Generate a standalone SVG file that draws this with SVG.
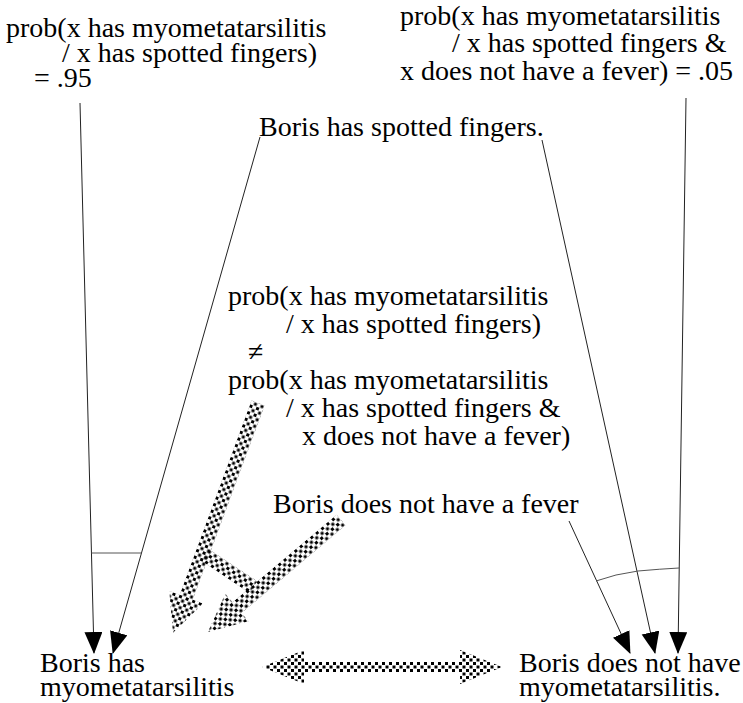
<svg xmlns="http://www.w3.org/2000/svg" width="743" height="703" viewBox="0 0 743 703">
<style>
text{font-family:"Liberation Serif","Times New Roman",serif;font-size:28px;fill:#000}
.ln{stroke:#222;stroke-width:1;fill:none}
.bar{stroke:#555;stroke-width:1;fill:none}
.blk{fill:url(#chk);stroke:none}
</style>
<defs>
<pattern id="chk" patternUnits="userSpaceOnUse" width="7" height="7">
<rect x="0.5" y="0.5" width="3" height="3" fill="#000"/>
<rect x="4" y="4" width="3" height="3" fill="#000"/>
</pattern>
<marker id="tri" markerUnits="userSpaceOnUse" markerWidth="22" markerHeight="20" refX="21" refY="9" orient="auto">
<path d="M0,0 L22,9 L0,18 Z" fill="#000"/>
</marker>
</defs>
<rect width="743" height="703" fill="#fff"/>

<g id="connectors">
<path class="ln" d="M80,103 L94,653" marker-end="url(#tri)"/>
<path class="ln" d="M260,137 L113,653" marker-end="url(#tri)"/>
<path class="bar" d="M91.5,553 L141,553"/>
<path class="ln" d="M569,521 L630,653" marker-end="url(#tri)"/>
<path class="ln" d="M542,140 L655,653" marker-end="url(#tri)"/>
<path class="ln" d="M686,98 L678,653" marker-end="url(#tri)"/>
<path class="bar" d="M596,581 Q615,574 638,571 Q660,569 679,568"/>
<g transform="translate(205,555) rotate(33.7)"><path class="blk" d="M0,-7 L58,-7 L58,7 L0,7 Z"/></g>
<g transform="translate(258,403) rotate(110.3)"><path class="blk" d="M0,-7 L207,-7 L207,-18 L245,0 L207,18 L207,7 L0,7 Z"/></g>
<g transform="translate(341,520) rotate(139.9)"><path class="blk" d="M0,-7 L136,-7 L136,-18 L174,0 L136,18 L136,7 L0,7 Z"/></g>
<path class="blk" d="M262,667 L304,650 L304,662 L460,662 L460,650 L502,667 L460,684 L460,672 L304,672 L304,684 Z"/>
</g>

<g id="n-prob-general">
<text x="6" y="37">prob(x has myometatarsilitis</text>
<text x="62" y="62">/ x has spotted fingers)</text>
<text x="34" y="87">= .95</text>
</g>
<g id="n-prob-specific">
<text x="400" y="25">prob(x has myometatarsilitis</text>
<text x="452" y="52">/ x has spotted fingers &amp;</text>
<text x="400" y="80">x does not have a fever) = .05</text>
</g>
<g id="n-spotted">
<text x="259" y="136">Boris has spotted fingers.</text>
</g>
<g id="n-inequality">
<text x="228" y="305">prob(x has myometatarsilitis</text>
<text x="286" y="333">/ x has spotted fingers)</text>
<text x="248" y="361">≠</text>
<text x="228" y="389">prob(x has myometatarsilitis</text>
<text x="286" y="417">/ x has spotted fingers &amp;</text>
<text x="302" y="445">x does not have a fever)</text>
</g>
<g id="n-nofever">
<text x="273" y="513">Boris does not have a fever</text>
</g>
<g id="n-has">
<text x="40" y="672">Boris has</text>
<text x="40" y="696">myometatarsilitis</text>
</g>
<g id="n-hasnot">
<text x="519" y="672">Boris does not have</text>
<text x="519" y="696">myometatarsilitis.</text>
</g>
</svg>
